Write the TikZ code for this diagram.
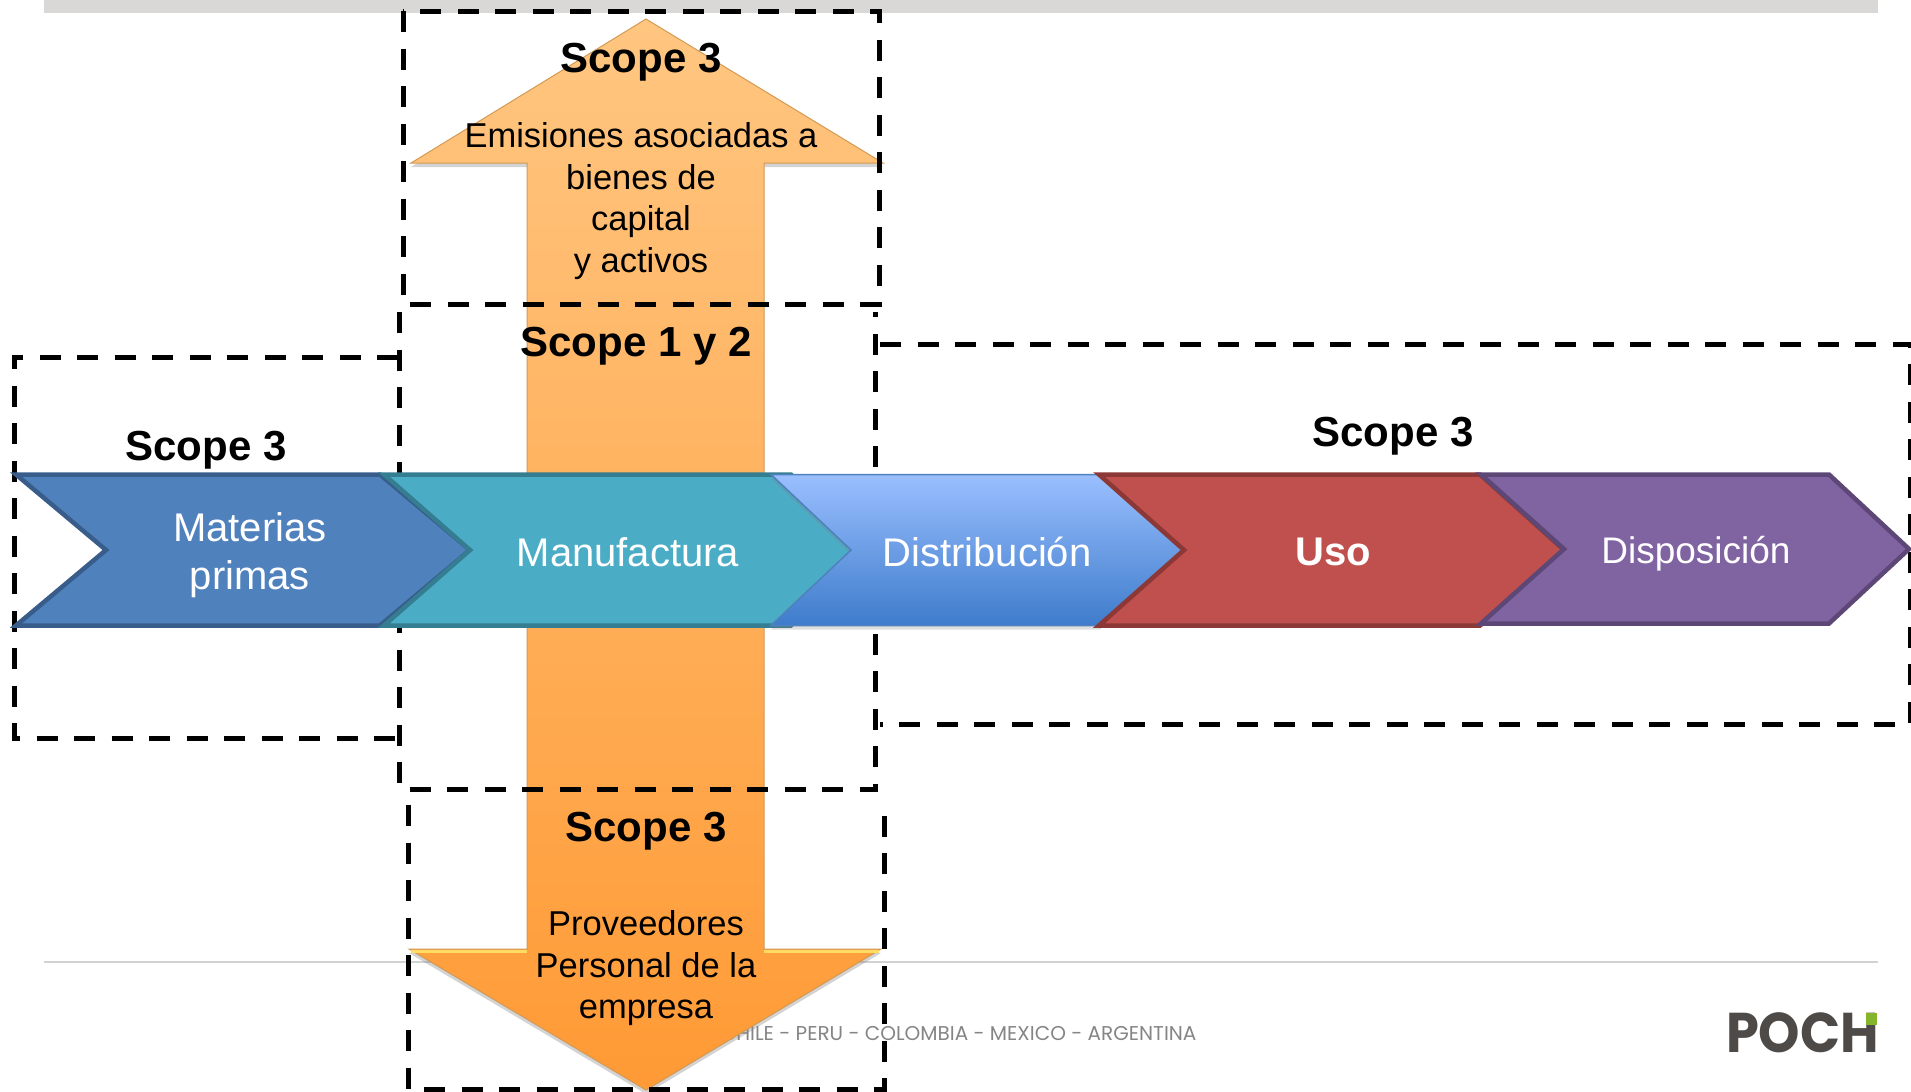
\documentclass[tikz,border=0pt]{standalone}
\usepackage{fontspec}
\setmainfont{Liberation Sans}
\newfontfamily\footfont{Poppins}
\usetikzlibrary{positioning}
\usetikzlibrary{shadows}
\definecolor{barcolor}{HTML}{D9D8D6}
\definecolor{rulecolor}{HTML}{D2D2D2}
\definecolor{footcolor}{HTML}{858585}
\definecolor{logogrey}{HTML}{4D4A48}
\definecolor{logogreen}{HTML}{84B52A}
\definecolor{lightorange}{HTML}{FFC681}
\definecolor{darkorange}{HTML}{FF9A35}
\definecolor{bevel}{HTML}{D39A55}
\definecolor{materia}{HTML}{4F81BD}
\definecolor{materiaedge}{HTML}{385D8A}
\definecolor{manu}{HTML}{4BACC6}
\definecolor{manuedge}{HTML}{357D91}
\definecolor{distlight}{HTML}{9ABFFF}
\definecolor{distdark}{HTML}{3E7CCB}
\definecolor{uso}{HTML}{C0504D}
\definecolor{usoedge}{HTML}{8C3836}
\definecolor{dispo}{HTML}{8064A2}
\definecolor{dispoedge}{HTML}{5C4776}

\tikzset{
  scopebox/.style={draw=black, line width=5pt, dash pattern=on 21pt off 16.5pt},
  chevron/.style={line width=4.5pt, miter limit=10},
  scopelabel/.style={font=\fontsize{42}{48}\selectfont\bfseries, text=black},
  bodylabel/.style={font=\fontsize{34.5}{41.5}\selectfont, align=center, text=black},
  steplabel/.style={font=\fontsize{40}{48}\selectfont, align=center, text=white},
}

\begin{document}
\begin{tikzpicture}[x=1pt, y=-1pt]
    \path[use as bounding box] (0,0) rectangle (1911,1092);
    % Page furniture
    \fill[barcolor] (44,0) rectangle (1878,12.5);
    \draw[rulecolor, line width=2pt] (44,962) -- (1878,962);
    \node[font=\footfont\fontsize{20}{24}\selectfont, text=footcolor, anchor=east] (countries) at (1200,1033)
        {CHILE - PERU - COLOMBIA - MEXICO - ARGENTINA};
    \node[font=\footfont\bfseries\fontsize{56}{60}\selectfont, text=logogrey, anchor=center, inner sep=0pt] (logo) at (1802.5,1033) {\scalebox{.94}[1]{POCH}};
    \fill[logogreen] (1866,1013) rectangle (1877,1025);

    % Double arrow behind the chain
    \path[shade, top color=lightorange, bottom color=darkorange, draw=bevel, line width=1pt,
          drop shadow={shadow xshift=0pt, shadow yshift=-4pt, opacity=.35}]
        (646,19) -- (883,163) -- (764,163) -- (764,949) -- (881,949) -- (646,1090)
        -- (409,949) -- (527,949) -- (527,163) -- (411,163) -- cycle;
    \draw[line width=3pt, color=yellow!60!orange!60!white] (411,951) -- (527,951) (764,951) -- (879,951);

    % Dashed scope frames, shared edges drawn once
    \draw[scopebox] (403,11) rectangle (879,304);
    \draw[scopebox] (399,312) -- (399,789) -- (875,789) -- (875,312);
    \draw[scopebox] (408,805) -- (408,1089) -- (884,1089) -- (884,800);
    \draw[scopebox] (398,357) -- (14,357) -- (14,738) -- (398,738);
    \draw[scopebox] (880,344) -- (1910,344) -- (1910,724) -- (880,724);

    % Value chain
    \draw[chevron, fill=materia, draw=materiaedge] (16,474.5) -- (380,474.5) -- (470,550) -- (380,625.5) -- (16,625.5) -- (106,550) -- cycle;
    \draw[chevron, fill=manu, draw=manuedge] (384,474.5) -- (791,474.5) -- (860,550) -- (791,625.5) -- (384,625.5) -- (470,550) -- cycle;
    \path[shade, top color=distlight, bottom color=distdark, draw=materia, line width=1.5pt,
          drop shadow={shadow xshift=0pt, shadow yshift=-4pt, opacity=.25}]
        (771,474.5) -- (1100,474.5) -- (1185,550) -- (1100,625.5) -- (771,625.5) -- (851,550) -- cycle;
    \draw[chevron, fill=uso, draw=usoedge] (1099,474.5) -- (1480,474.5) -- (1564,550) -- (1480,625.5) -- (1099,625.5) -- (1184,550) -- cycle;
    \draw[chevron, fill=dispo, draw=dispoedge] (1481,474.5) -- (1829,474.5) -- (1909,549) -- (1829,623.5) -- (1481,623.5) -- (1564,549) -- cycle;

    % Scope titles
    \node[scopelabel] (scopetop) at (641,62) {Scope 3};
    \node[scopelabel] (scopemid) at (636,346) {Scope 1 y 2};
    \node[scopelabel] (scopeleft) at (206,450) {Scope 3};
    \node[scopelabel] (scoperight) at (1393,436) {Scope 3};
    \node[scopelabel] (scopebottom) at (646,831) {Scope 3};

    % Descriptions
    \node[bodylabel] (capital) at (641,201) {Emisiones asociadas a\\bienes de\\capital\\y activos};
    \node[bodylabel] (suppliers) at (646,968.5) {Proveedores\\Personal de la\\empresa};

    % Step labels
    \node[steplabel] (materias) at (250,555.5) {Materias\\primas};
    \node[steplabel] (manufactura) at (628,552) {Manufactura};
    \node[steplabel] (distribucion) at (987,552) {Distribución};
    \node[steplabel, font=\fontsize{40}{48}\selectfont\bfseries] (usolabel) at (1333,552) {Uso};
    \node[steplabel, font=\fontsize{37}{44}\selectfont] (disposicion) at (1696,553.5) {Disposición};
\end{tikzpicture}
\end{document}
